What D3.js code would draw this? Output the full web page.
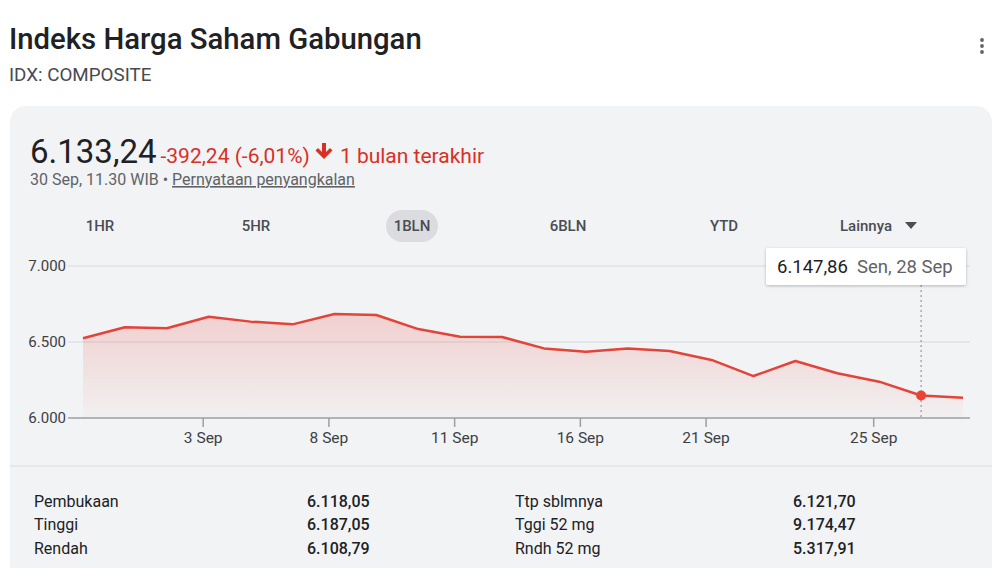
<!DOCTYPE html>
<html><head><meta charset="utf-8">
<script src="https://cdn.jsdelivr.net/npm/d3@7"></script>
<style>
html,body{margin:0;padding:0;background:#fff;}
svg{display:block;font-family:Roboto,"Noto Sans",Arial,sans-serif;}
</style></head>
<body>
<svg id="c" width="1000" height="568"></svg>
<script>
// ---- data ----
const dates = ["31 Agu","1 Sep","2 Sep","3 Sep","4 Sep","7 Sep","8 Sep","9 Sep","10 Sep","11 Sep","14 Sep","15 Sep","16 Sep","17 Sep","18 Sep","21 Sep","22 Sep","23 Sep","24 Sep","25 Sep","28 Sep","29 Sep"];
const values = [6525,6597,6590,6666,6634,6616,6684,6678,6585,6535,6533,6458,6436,6458,6441,6382,6276,6375,6294,6239,6147.86,6133.24];
const xTicks = ["3 Sep","8 Sep","11 Sep","16 Sep","21 Sep","25 Sep"];
const yTicks = [6000,6500,7000];
const yTickLabels = ["6.000","6.500","7.000"];
const tabs = ["1HR","5HR","1BLN","6BLN","YTD","Lainnya"];
const statLabelsL = ["Pembukaan","Tinggi","Rendah"];
const statValuesL = ["6.118,05","6.187,05","6.108,79"];
const statLabelsR = ["Ttp sblmnya","Tggi 52 mg","Rndh 52 mg"];
const statValuesR = ["6.121,70","9.174,47","5.317,91"];
const highlightIndex = 20;
const tooltipValue = "6.147,86";
const tooltipDate = "Sen, 28 Sep";

const svg = d3.select("#c");

// header
svg.append("text").attr("x",9).attr("y",49).attr("font-size",29.3).attr("font-weight",500)
  .attr("fill","#202124").text("Indeks Harga Saham Gabungan");
svg.append("text").attr("x",9).attr("y",81).attr("font-size",18.8).attr("fill","#474a4f").text("IDX: COMPOSITE");
[40,46,52].forEach(cy=>svg.append("circle").attr("cx",982).attr("cy",cy).attr("r",1.9).attr("fill","#5f6368"));

// card
svg.append("rect").attr("x",10).attr("y",106).attr("width",982).attr("height",480).attr("rx",16).attr("fill","#f2f3f5");

// price header
const ph = svg.append("text").attr("x",30).attr("y",163);
ph.append("tspan").attr("font-size",33).attr("fill","#202124").text("6.133,24");
ph.append("tspan").attr("dx",4).attr("font-size",21).attr("fill","#d93025").text("-392,24 (-6,01%)");
ph.append("tspan").attr("dx",30).attr("font-size",21).attr("fill","#d93025").text("1 bulan terakhir");
svg.append("path").attr("d","M322,143 L326,143 L326,152 L330,148 L332.5,150.5 L324,159 L315.5,150.5 L318,148 L322,152 Z").attr("fill","#d93025");
const sub = svg.append("text").attr("x",30).attr("y",185).attr("font-size",16).attr("fill","#5f6368");
sub.append("tspan").text("30 Sep, 11.30 WIB \u2022 ");
sub.append("tspan").attr("text-decoration","underline").text("Pernyataan penyangkalan");

// tabs
const tabX = [100,256,412,568,724,866];
svg.append("rect").attr("x",386).attr("y",210).attr("width",52).attr("height",32).attr("rx",16).attr("fill","#dadce0");
tabs.forEach((t,i)=>{
  svg.append("text").attr("x",tabX[i]).attr("y",231).attr("text-anchor","middle").attr("font-size",15)
    .attr("font-weight",500).attr("fill","#4a4d52").text(t);
});
svg.append("path").attr("d","M905,222 L917,222 L911,229 Z").attr("fill","#4a4d52");

// scales
const x = d3.scalePoint().domain(dates).range([83,963]);
const y = d3.scaleLinear().domain([6000,7000]).range([418,266]);

// grid
const g = svg.append("g");
yTicks.forEach((v,i)=>{
  g.append("line").attr("x1",68).attr("x2",970).attr("y1",y(v)).attr("y2",y(v))
    .attr("stroke", v===6000 ? "#9aa0a6" : "#d6d8db").attr("stroke-width", v===6000?1.5:1);
  g.append("text").attr("x",66).attr("y",y(v)+5).attr("text-anchor","end").attr("font-size",15)
    .attr("fill","#3c4043").text(yTickLabels[i]);
});

// gradient
const defs = svg.append("defs");
const grad = defs.append("linearGradient").attr("id","ag").attr("x1",0).attr("y1",0).attr("x2",0).attr("y2",1);
grad.append("stop").attr("offset","0%").attr("stop-color","#ea4335").attr("stop-opacity",0.2);
grad.append("stop").attr("offset","100%").attr("stop-color","#ea4335").attr("stop-opacity",0.02);

const area = d3.area().x((d,i)=>x(dates[i])).y0(y(6000)).y1(d=>y(d));
g.append("path").datum(values).attr("d",area).attr("fill","url(#ag)");
const line = d3.line().x((d,i)=>x(dates[i])).y(d=>y(d));
g.append("path").datum(values).attr("d",line).attr("fill","none").attr("stroke","#e3443a")
  .attr("stroke-width",2.5).attr("stroke-linejoin","round");

// x axis
const xa = svg.append("g").attr("transform",`translate(-6,${y(6000)})`)
  .call(d3.axisBottom(x).tickValues(xTicks).tickSize(9).tickSizeOuter(0).tickPadding(5));
xa.select(".domain").remove();
xa.selectAll(".tick line").attr("stroke","#9aa0a6").attr("stroke-width",1.5);
xa.selectAll(".tick text").attr("font-size",15.5).attr("fill","#3c4043").attr("font-family","Roboto,sans-serif");

// hover line + point
const hx = x(dates[highlightIndex]);
svg.append("line").attr("x1",hx).attr("x2",hx).attr("y1",285).attr("y2",y(6000))
  .attr("stroke","#80868b").attr("stroke-dasharray","2,3").attr("stroke-width",1);
svg.append("circle").attr("cx",hx).attr("cy",y(values[highlightIndex])).attr("r",5).attr("fill","#ea4335");

// tooltip
const filt = defs.append("filter").attr("id","sh").attr("x","-10%").attr("y","-30%").attr("width","120%").attr("height","170%");
filt.append("feDropShadow").attr("dx",0).attr("dy",1).attr("stdDeviation",1.5).attr("flood-color","#000").attr("flood-opacity",0.25);
svg.append("rect").attr("x",766).attr("y",248).attr("width",200).attr("height",37).attr("rx",2)
  .attr("fill","#fff").attr("filter","url(#sh)");
const tt = svg.append("text").attr("x",777).attr("y",273).attr("font-size",18.5);
tt.append("tspan").attr("fill","#202124").text(tooltipValue);
tt.append("tspan").attr("dx",9).attr("fill","#5f6368").text(tooltipDate);

// stats
svg.append("line").attr("x1",10).attr("x2",992).attr("y1",466).attr("y2",466).attr("stroke","#dadce0");
const rowY = [507,530,554];
rowY.forEach((ry,i)=>{
  svg.append("text").attr("x",34).attr("y",ry).attr("font-size",16).attr("fill","#202124").text(statLabelsL[i]);
  svg.append("text").attr("x",307).attr("y",ry).attr("font-size",16).attr("font-weight",500).attr("fill","#202124").text(statValuesL[i]);
  svg.append("text").attr("x",515).attr("y",ry).attr("font-size",16).attr("fill","#202124").text(statLabelsR[i]);
  svg.append("text").attr("x",793).attr("y",ry).attr("font-size",16).attr("font-weight",500).attr("fill","#202124").text(statValuesR[i]);
});
</script>
</body></html>
